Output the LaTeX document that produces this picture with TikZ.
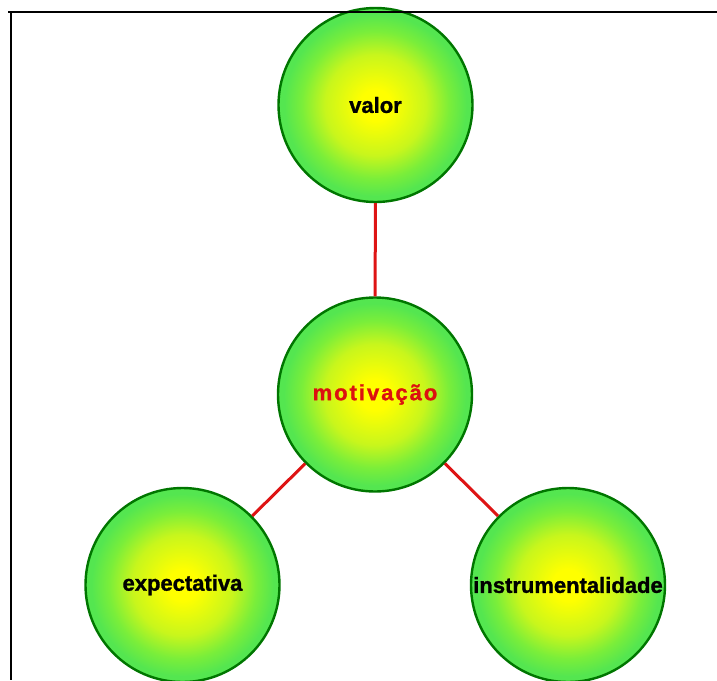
\documentclass[tikz,border=0pt]{standalone}
\usepackage{fontspec}
\setmainfont{Liberation Sans}[BoldFeatures={FakeBold=1.2}]
\definecolor{ringgreen}{RGB}{0,118,0}
\definecolor{edgegreen}{RGB}{84,230,80}
\definecolor{outergreen}{RGB}{122,238,58}
\definecolor{midgreen}{RGB}{200,246,28}
\definecolor{coreyellow}{RGB}{255,255,0}
\definecolor{linkred}{RGB}{222,20,20}
\definecolor{labelred}{RGB}{220,16,16}
% radial glow: the circle's rim sits at 25bp of the shading
\pgfdeclareradialshading{glow}{\pgfpoint{0bp}{0bp}}{%
  color(0bp)=(coreyellow);
  color(4bp)=(coreyellow);
  color(13bp)=(midgreen);
  color(19bp)=(outergreen);
  color(23.5bp)=(edgegreen);
  color(25bp)=(edgegreen);
  color(50bp)=(edgegreen)}
\begin{document}
\begin{tikzpicture}[x=1pt,y=-1pt,
  concept/.style={circle, minimum size=194pt, inner sep=0pt,
    draw=ringgreen, line width=2.4pt, shading=glow,
    font=\fontsize{22}{24}\selectfont\bfseries, text=black},
  link/.style={draw=linkred, line width=3pt},
  frame/.style={draw=black, line width=2pt}]
  \useasboundingbox (0,0) rectangle (717,680);
  \begin{scope}
    \clip (0,0) rectangle (717,680);
    % concept circles
    \node[concept] (valor) at (375.5,105) {valor};
    \node[concept, text=labelred] (motiv) at (375,394.5)
      {\addfontfeature{LetterSpace=9}motivação};
    \node[concept] (expec) at (182.5,585) {expectativa};
    \node[concept] (instr) at (568,585) {instrumentalidade};
    % red links between the concepts
    \draw[link] (valor) -- (motiv);
    \draw[link] (motiv) -- (expec);
    \draw[link] (motiv) -- (instr);
    % page frame: top and left rules
    \coordinate (ftl) at (11,11.5);
    \coordinate (ftr) at (717,11.5);
    \coordinate (fstart) at (8,11.5);
    \coordinate (fbl) at (11,680);
    \draw[frame] (fstart) -- (ftr);
    \draw[frame] (ftl) -- (fbl);
  \end{scope}
\end{tikzpicture}
\end{document}
